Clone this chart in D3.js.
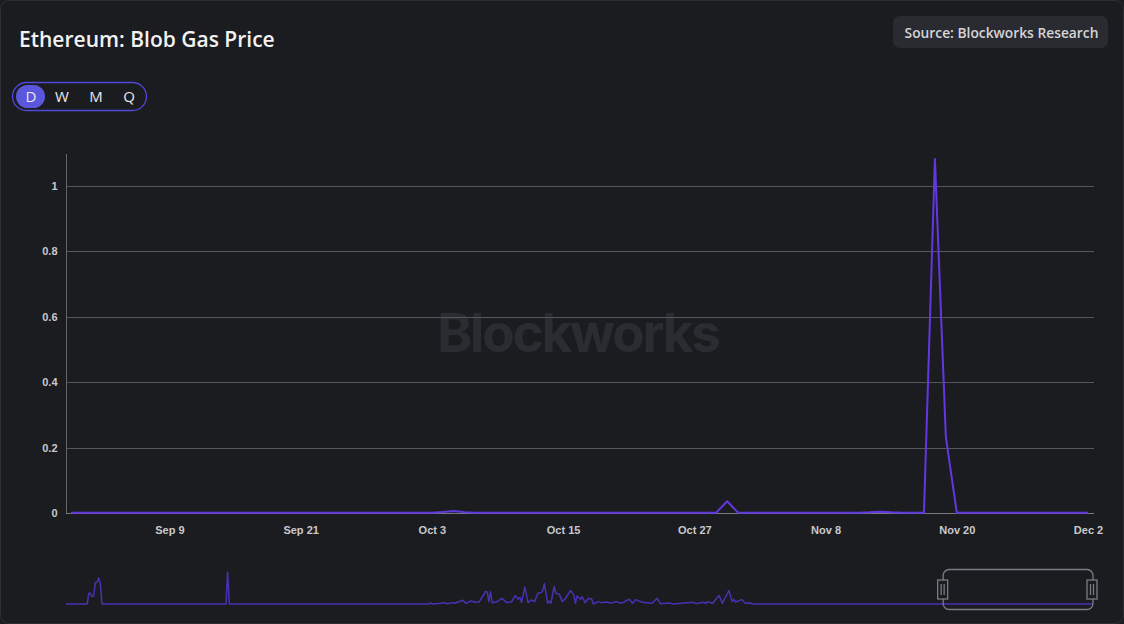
<!DOCTYPE html>
<html>
<head>
<meta charset="utf-8">
<script src="https://cdn.jsdelivr.net/npm/d3@7"></script>
<style>
    html, body { margin: 0; padding: 0; background: #1b1c20; }
    svg { display: block; }
</style>
</head>
<body>
<div id="chart"></div>
<script>
    "use strict";

    // Daily blob gas price, Aug 31 - Dec 2 2025 (main window)
    var mainStart = "2025-08-31";
    var mainValues = [
        0.001, 0.001, 0.001, 0.001, 0.001, 0.001, 0.001, 0.001, 0.001, 0.001,
        0.001, 0.001, 0.001, 0.001, 0.001, 0.001, 0.001, 0.001, 0.001, 0.001,
        0.001, 0.001, 0.001, 0.001, 0.001, 0.001, 0.001, 0.001, 0.001, 0.001,
        0.001, 0.001, 0.001, 0.001, 0.003, 0.006, 0.002, 0.001, 0.001, 0.001,
        0.001, 0.001, 0.001, 0.001, 0.001, 0.001, 0.001, 0.001, 0.001, 0.001,
        0.001, 0.001, 0.001, 0.001, 0.001, 0.001, 0.001, 0.001, 0.001, 0.001,
        0.036, 0.001, 0.001, 0.001, 0.001, 0.001, 0.001, 0.001, 0.001, 0.001,
        0.001, 0.001, 0.001, 0.002, 0.004, 0.002, 0.001, 0.001, 0.001, 1.083,
        0.233, 0.001, 0.001, 0.001, 0.001, 0.001, 0.001, 0.001, 0.001, 0.001,
        0.001, 0.001, 0.001, 0.001
    ];

    // Earlier history shown only in the navigator (same units)
    var historyDates = [
        "2024-03-13", "2024-03-26", "2024-03-27", "2024-03-28", "2024-03-29", "2024-03-30",
        "2024-03-31", "2024-04-01", "2024-04-02", "2024-04-03", "2024-04-04",
        "2024-06-19", "2024-06-20", "2024-06-21",
        "2024-10-21", "2024-10-22", "2024-10-24", "2024-10-30", "2024-10-31", "2024-11-02",
        "2024-11-04", "2024-11-06", "2024-11-11", "2024-11-13", "2024-11-16", "2024-11-19",
        "2024-11-21", "2024-11-25", "2024-11-26", "2024-11-27", "2024-11-28", "2024-11-29",
        "2024-12-02", "2024-12-05", "2024-12-08", "2024-12-11", "2024-12-13", "2024-12-15",
        "2024-12-16", "2024-12-17", "2024-12-19", "2024-12-21", "2024-12-23", "2024-12-25",
        "2024-12-27", "2024-12-29", "2024-12-30", "2024-12-31", "2025-01-02", "2025-01-03",
        "2025-01-04", "2025-01-06", "2025-01-07", "2025-01-09", "2025-01-11", "2025-01-13",
        "2025-01-16", "2025-01-18", "2025-01-19", "2025-01-20", "2025-01-22", "2025-01-23",
        "2025-01-25", "2025-01-27", "2025-01-29", "2025-01-30", "2025-02-02", "2025-02-04",
        "2025-02-07", "2025-02-10", "2025-02-13", "2025-02-16", "2025-02-21", "2025-02-23",
        "2025-02-25", "2025-03-01", "2025-03-04", "2025-03-07", "2025-03-10", "2025-03-12",
        "2025-03-17", "2025-03-20", "2025-04-01", "2025-04-03", "2025-04-07", "2025-04-09",
        "2025-04-10", "2025-04-13", "2025-04-17", "2025-04-19", "2025-04-23", "2025-04-25",
        "2025-04-26", "2025-04-27", "2025-05-01", "2025-05-03", "2025-05-06", "2025-05-08",
        "2025-08-30"
    ];
    var historyValues = [
        0, 0, 32, 32, 22, 24,
        64, 64, 77, 62, 0,
        0, 95, 0,
        0, 3, 0, 3, 3, 1,
        4, 2, 11, 2, 9, 5,
        6, 37, 36, 7, 36, 4,
        7, 17, 4, 7, 25, 14,
        20, 5, 50, 4, 12, 7,
        32, 34, 39, 60, 2, 9,
        2, 52, 32, 30, 7, 17,
        40, 27, 2, 24, 14, 22,
        4, 17, 14, 0, 7, 4,
        6, 3, 7, 2, 14, 2,
        13, 5, 4, 2, 17, 1,
        3, 0, 5, 1, 5, 2,
        7, 2, 25, 2, 40, 7,
        14, 6, 13, 2, 3, 0,
        0
    ];

    var yTicks = [0, 0.2, 0.4, 0.6, 0.8, 1];
    var xTickDates = ["2025-09-09", "2025-09-21", "2025-10-03", "2025-10-15", "2025-10-27", "2025-11-08", "2025-11-20", "2025-12-02"];

    var W = 1124, H = 624;
    var parse = d3.utcParse("%Y-%m-%d");
    var day = 24 * 3600 * 1000;
    var t0 = parse(mainStart);

    var mainData = mainValues.map(function (v, i) {
        return { date: new Date(t0.getTime() + i * day), value: v };
    });
    var navData = historyDates.map(function (d, i) {
        return { date: parse(d), value: historyValues[i] };
    }).concat(mainData);

    var svg = d3.select("#chart").append("svg")
        .attr("width", W)
        .attr("height", H)
        .style("font-family", "'Open Sans', sans-serif");

    // Card
    svg.append("rect")
        .attr("x", 0.5).attr("y", 0.5)
        .attr("width", W - 1).attr("height", H - 1)
        .attr("rx", 8)
        .attr("fill", "#1b1c20")
        .attr("stroke", "#2e2f35");

    svg.append("text")
        .attr("x", 19).attr("y", 47)
        .attr("fill", "#f2f2f2")
        .attr("font-size", 21)
        .attr("font-weight", 600)
        .text("Ethereum: Blob Gas Price");

    // Source badge
    var src = svg.append("g");
    src.append("rect")
        .attr("x", 893).attr("y", 16)
        .attr("width", 215).attr("height", 32)
        .attr("rx", 7)
        .attr("fill", "#2a2b30");
    src.append("text")
        .attr("x", 1001.5).attr("y", 38)
        .attr("text-anchor", "middle")
        .attr("fill", "#d4d4d8")
        .attr("font-size", 13.8)
        .attr("font-weight", 600)
        .text("Source: Blockworks Research");

    // Period buttons
    var periods = ["D", "W", "M", "Q"];
    var periodX = [31, 62, 96, 129];
    svg.append("rect")
        .attr("x", 12.5).attr("y", 82.5)
        .attr("width", 134).attr("height", 28)
        .attr("rx", 14)
        .attr("fill", "none")
        .attr("stroke", "#5148d8")
        .attr("stroke-width", 1.3);
    svg.append("rect")
        .attr("x", 16).attr("y", 85)
        .attr("width", 29).attr("height", 23)
        .attr("rx", 11.5)
        .attr("fill", "#5b57dc");
    svg.selectAll("text.period")
        .data(periods)
        .enter()
        .append("text")
        .attr("class", "period")
        .attr("x", function (d, i) { return periodX[i]; })
        .attr("y", 102)
        .attr("text-anchor", "middle")
        .attr("fill", "#e8e8ec")
        .attr("font-size", 15)
        .text(function (d) { return d; });

    // Watermark
    svg.append("text")
        .attr("x", 578).attr("y", 352)
        .attr("text-anchor", "middle")
        .attr("fill", "#2b2c31")
        .attr("font-size", 53)
        .attr("font-weight", 700)
        .attr("letter-spacing", -2.2)
        .attr("font-family", "Inter, sans-serif")
        .text("Blockworks");

    // Main chart scales
    var plotLeft = 66, plotRight = 1094, plotTop = 154, plotBottom = 513;
    var x = d3.scaleUtc()
        .domain([t0, parse("2025-12-02")])
        .range([71, 1088]);
    var y = d3.scaleLinear()
        .domain([0, 1.098])
        .range([plotBottom, plotTop]);

    var grid = svg.append("g");
    grid.selectAll("line")
        .data(yTicks.slice(1))
        .enter()
        .append("line")
        .attr("x1", plotLeft).attr("x2", plotRight)
        .attr("y1", function (d) { return Math.round(y(d)) + 0.5; })
        .attr("y2", function (d) { return Math.round(y(d)) + 0.5; })
        .attr("stroke", "#55565b")
        .attr("stroke-width", 1);

    var yAxis = svg.append("g")
        .attr("transform", "translate(" + (plotLeft + 0.5) + ",0)")
        .call(d3.axisLeft(y).tickValues(yTicks).tickSize(0).tickPadding(9).tickFormat(d3.format("~g")));
    yAxis.select(".domain")
        .attr("d", "M0," + plotTop + "V" + plotBottom)
        .attr("stroke", "#66676c");
    yAxis.selectAll("text")
        .attr("fill", "#c9c9cd")
        .attr("font-size", 11)
        .attr("font-weight", 700)
        .attr("font-family", "'Liberation Sans', Arial, sans-serif");

    var xAxis = svg.append("g")
        .attr("transform", "translate(0," + (plotBottom + 0.5) + ")")
        .call(d3.axisBottom(x).tickValues(xTickDates.map(parse)).tickSize(0).tickPadding(13).tickFormat(d3.utcFormat("%b %-d")));
    xAxis.select(".domain")
        .attr("d", "M" + plotLeft + ",0H" + plotRight)
        .attr("stroke", "#77787d");
    xAxis.selectAll("text")
        .attr("fill", "#c9c9cd")
        .attr("font-size", 11)
        .attr("font-weight", 700)
        .attr("font-family", "'Liberation Sans', Arial, sans-serif");

    var line = d3.line()
        .x(function (d) { return x(d.date); })
        .y(function (d) { return y(d.value); });

    svg.append("path")
        .datum(mainData)
        .attr("d", line)
        .attr("fill", "none")
        .attr("stroke", "#6138e0")
        .attr("stroke-width", 2)
        .attr("stroke-linejoin", "round");

    // Navigator
    var navX = d3.scaleUtc()
        .domain([parse(historyDates[0]), parse("2025-12-02")])
        .range([66, 1093]);
    var navY = d3.scaleLinear()
        .domain([0, d3.max(navData, function (d) { return d.value; })])
        .range([604, 572]);

    svg.append("path")
        .datum(navData)
        .attr("d", d3.line()
            .x(function (d) { return navX(d.date); })
            .y(function (d) { return navY(d.value); }))
        .attr("fill", "none")
        .attr("stroke", "#4a30b4")
        .attr("stroke-width", 1.5)
        .attr("stroke-linejoin", "round");

    var selL = navX(t0) + 2, selR = navX(parse("2025-12-02"));
    var nav = svg.append("g")
        .attr("fill", "none")
        .attr("stroke", "#7b7c82")
        .attr("stroke-width", 1.3);
    nav.append("rect")
        .attr("x", selL).attr("y", 569.5)
        .attr("width", selR - selL).attr("height", 40)
        .attr("rx", 6);
    [selL - 0.5, selR - 1].forEach(function (hx) {
        nav.append("rect")
            .attr("x", hx - 5).attr("y", 580)
            .attr("width", 10).attr("height", 19)
            .attr("fill", "#1b1c20");
        nav.append("line")
            .attr("x1", hx - 1.5).attr("x2", hx - 1.5)
            .attr("y1", 584).attr("y2", 595);
        nav.append("line")
            .attr("x1", hx + 1.5).attr("x2", hx + 1.5)
            .attr("y1", 584).attr("y2", 595);
    });
</script>
</body>
</html>
